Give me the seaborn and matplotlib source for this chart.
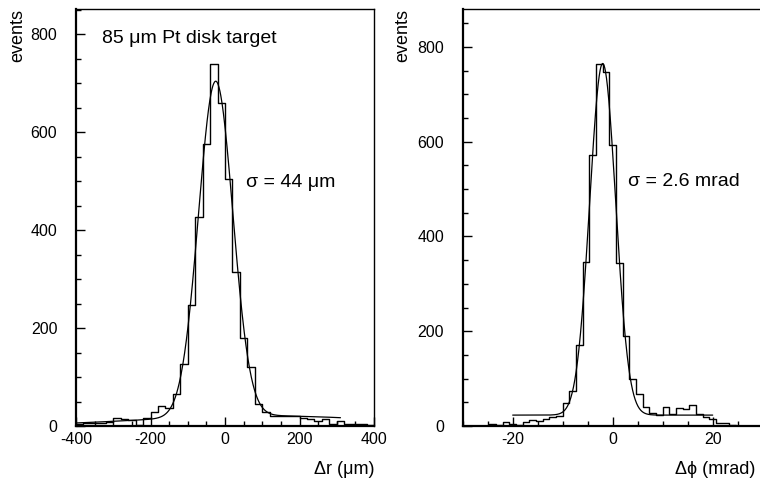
"""
Track residuals for the 85 um Pt disk target: delta r and delta phi.
"""

import numpy as np
import pandas as pd
import matplotlib
matplotlib.use("Agg")
import matplotlib.pyplot as plt
import seaborn as sns
from matplotlib.ticker import MultipleLocator, FixedLocator

# --- left panel: delta r (um), 40 bins of 20 um from -400 to 400
dr_edges = np.arange(-400, 401, 20)
dr_counts = [4, 6, 6, 7, 9, 17, 14, 12, 3, 17,
             28, 40, 36, 65, 126, 247, 428, 576, 739, 660,
             504, 315, 179, 120, 44, 28, 21, 21, 21, 21,
             16, 14, 10, 14, 5, 10, 5, 5, 4, 2]
# fit: core gaussian + wide tail, drawn from -400 to 310
dr_fit_core = (685, -25, 46)     # amplitude, mean, sigma
dr_fit_tail = (21, 100, 320)
dr_fit_range = (-400, 310)

# --- right panel: delta phi (mrad), 45 bins of 4/3 mrad from -30 to 30
dphi_edges = np.linspace(-30, 30, 46)
dphi_counts = [0, 0, 1, 1, 5, 3, 8, 5, 3, 9,
               13, 11, 15, 18, 21, 49, 74, 170, 346, 571,
               763, 746, 594, 345, 190, 100, 67, 40, 27, 24,
               40, 25, 37, 35, 44, 25, 20, 15, 7, 6,
               3, 1, 0, 0, 0]
dphi_fit_core = (742, -2, 2.6)
dphi_fit_bg = 23
dphi_fit_range = (-20, 20)


def gauss(x, amp, mu, sig):
    return amp * np.exp(-0.5 * ((x - mu) / sig) ** 2)


sns.set_style("ticks")
plt.rcParams["font.family"] = ["Liberation Sans", "DejaVu Sans"]
plt.rcParams["axes.unicode_minus"] = False
plt.rcParams["text.color"] = "black"
plt.rcParams["axes.labelcolor"] = "black"

fig = plt.figure(figsize=(7.6, 4.86), dpi=100)
ax1 = fig.add_axes([76 / 760, 60 / 486, 298 / 760, 417 / 486])
ax2 = fig.add_axes([462.7 / 760, 60 / 486, 300 / 760, 417 / 486])


def draw_hist(ax, edges, counts):
    edges = np.asarray(edges, dtype=float)
    centers = 0.5 * (edges[:-1] + edges[1:])
    df = pd.DataFrame({"x": centers, "n": counts})
    sns.histplot(data=df, x="x", weights="n", bins=edges.tolist(), element="step",
                 fill=False, color="black", linewidth=1.0, ax=ax)


# left
draw_hist(ax1, dr_edges, dr_counts)
xr = np.linspace(*dr_fit_range, 600)
yr = gauss(xr, *dr_fit_core) + gauss(xr, *dr_fit_tail)
sns.lineplot(x=xr, y=yr, color="black", linewidth=0.9, ax=ax1)
ax1.set_xlim(-400, 400)
ax1.set_ylim(0, 852)
ax1.xaxis.set_major_locator(MultipleLocator(200))
ax1.xaxis.set_minor_locator(MultipleLocator(50))
ax1.text(0.087, 0.93, "85 \u03bcm Pt disk target", transform=ax1.transAxes,
         fontsize=14, ha="left", va="center")
ax1.text(0.5695, 0.583, "\u03c3 = 44 \u03bcm", transform=ax1.transAxes,
         fontsize=14, ha="left", va="center")
ax1.set_xlabel("\u0394r (\u03bcm)", loc="right", fontsize=13)
ax1.xaxis.set_label_coords(1.0, -0.084)
ax1.set_ylabel("events", loc="top", fontsize=13)
ax1.yaxis.set_label_coords(-0.168, 1.0)

# right
draw_hist(ax2, dphi_edges, dphi_counts)
xp = np.linspace(*dphi_fit_range, 600)
yp = gauss(xp, *dphi_fit_core) + dphi_fit_bg
sns.lineplot(x=xp, y=yp, color="black", linewidth=0.9, ax=ax2)
ax2.set_xlim(-30, 30)
ax2.set_ylim(0, 880)
ax2.xaxis.set_major_locator(FixedLocator([-20, 0, 20]))
ax2.xaxis.set_minor_locator(MultipleLocator(5))
ax2.text(0.551, 0.5875, "\u03c3 = 2.6 mrad", transform=ax2.transAxes,
         fontsize=14, ha="left", va="center")
ax2.set_xlabel("\u0394\u03d5 (mrad)", loc="right", fontsize=13)
ax2.xaxis.set_label_coords(0.974, -0.084)
ax2.set_ylabel("events", loc="top", fontsize=13)
ax2.yaxis.set_label_coords(-0.172, 1.0)

for ax in (ax1, ax2):
    ax.yaxis.set_major_locator(MultipleLocator(200))
    ax.yaxis.set_minor_locator(MultipleLocator(50))
    ax.tick_params(which="both", direction="in", top=False, right=False,
                   color="black", width=1.0, labelsize=11.5, labelcolor="black")
    ax.tick_params(which="major", length=6.5)
    ax.tick_params(which="minor", length=3.5)
    ax.tick_params(axis="x", which="both", pad=4.3)
    ax.tick_params(axis="y", which="both", pad=13.5)
    for side in ("top", "right"):
        ax.spines[side].set_linewidth(1.0)
    for side in ("left", "bottom"):
        ax.spines[side].set_linewidth(1.6)
    for sp in ax.spines.values():
        sp.set_color("black")

fig.savefig("out.png", dpi=100)
